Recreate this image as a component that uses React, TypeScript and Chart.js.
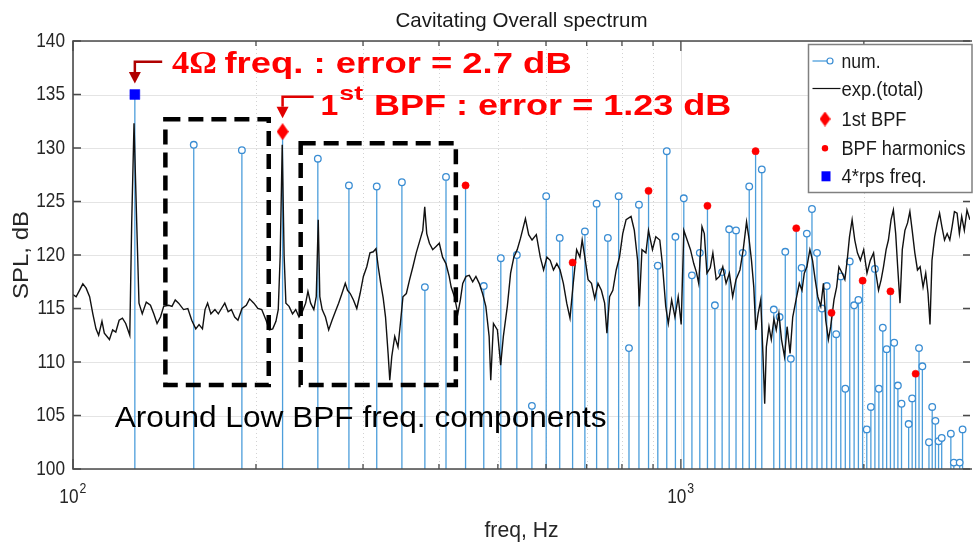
import React, { useEffect, useRef } from 'react';
import { Chart, registerables } from 'chart.js';

Chart.register(...registerables);

// Shaft rotation rate; the predicted (num.) spectrum is given per shaft order
const SHAFT_RATE_HZ = 31.6;
const NUM_ORDERS = [
  4, 5, 6, 7, 8, 9, 10, 11, 12, 13, 14, 15, 16, 17, 18, 19, 20, 21, 22, 23, 24, 25, 26, 27, 28,
  29, 30, 31, 32, 33, 34, 35, 36, 37, 38, 39, 40, 41, 42, 43, 44, 45, 46, 47, 48, 49, 50, 51, 52,
  53, 54, 55, 56, 57, 58, 59, 60, 61, 62, 63, 64, 65, 66, 67, 68, 69, 70, 71, 72, 73, 74, 75, 76,
  77, 78, 79, 80, 81, 82, 83, 84, 85, 86, 87, 88, 89, 90, 91, 92,
];
// SPL per order, dB (null: below the 100 dB floor)
const NUM_LEVELS_DB = [
  135.0, 130.3, 129.8, 131.53, 129.0, 126.5, 126.4, 126.8, 117.0, 127.3, 126.5, 117.1, 119.7, 120.0,
  105.9, 125.5, 121.6, 119.3, 122.2, 124.8, 121.6, 125.5, 111.3, 124.7, 126.0,
  119.0, 129.7, 121.7, 125.3, 118.1, 120.2, 124.6, 115.3, 118.4, 122.4, 122.3, 120.2, 126.4, 129.7,
  128.0, null, 114.9, 114.2, 120.3, 110.3, 122.5, 118.8, 122.0, 124.3,
  120.2, 115.0, 117.1, 114.6, 112.6, 118.0, 107.5, 119.4, 115.3, 115.8, 117.6, 103.7, 105.8, 118.7,
  107.5, 113.2, 111.2, 116.6, 111.8, 107.8, 106.1, null, 104.2, 106.6,
  108.9, 111.3, 109.6, null, 102.5, 105.8, 104.5, 102.6, 102.9, null, null, 103.3, 100.6, null, 100.6, 103.7,
];
const BPF_ORDER = 7;
const BPF_HARMONIC_ORDERS = [14, 21, 28, 35, 42, 49, 56, 63, 70, 77];
const RPS4_ORDER = 4;

// Measured overall spectrum (exp.(total))
const EXP_FREQ_HZ = [
  100.0, 101.2, 102.5, 103.8, 105.1, 106.5, 107.8, 109.1, 110.2, 111.6, 112.6, 114.8, 116.2, 117.6,
  119.1, 120.6, 122.1, 124.0, 124.9, 126.0, 127.3, 128.4, 130.0, 132.0, 134.1, 135.8, 137.5, 139.3,
  141.0, 143.7, 145.5, 147.3, 149.2, 152.0, 154.5, 156.8, 159.2, 161.2, 163.3, 164.9, 166.5, 168.6,
  171.2, 173.4, 175.5, 177.7, 180.0, 182.2, 184.5, 186.8, 189.7, 192.8, 195.2, 198.4, 201.4, 204.4,
  207.8, 210.4, 213.1, 215.7, 217.6, 219.2, 220.9, 222.5, 224.0, 226.7, 229.7, 232.5, 235.4, 238.4,
  241.4, 243.5, 246.0, 249.0, 251.3, 253.2, 254.7, 257.0, 260.2, 263.4, 266.8, 270.1, 273.5, 277.0,
  280.5, 282.9, 285.8, 289.3, 293.0, 296.7, 300.4, 304.3, 308.0, 311.9, 315.1, 317.8, 320.7, 323.8,
  326.7, 329.9, 332.0, 334.5, 338.3, 342.5, 345.6, 349.0, 353.5, 357.9, 362.4, 367.0, 371.6, 376.2,
  379.0, 381.9, 385.8, 390.6, 395.6, 400.5, 405.5, 410.7, 415.8,
  418.9, 424.2, 429.6, 433.8, 437.7, 443.2, 448.7, 454.5, 460.1, 465.9, 471.8, 477.7, 483.7, 486.7,
  491.7, 499.1, 505.3, 510.5, 518.2, 524.7, 531.2, 538.0, 544.7, 555.0, 561.9, 569.1, 578.4, 587.1,
  594.5, 602.1, 609.6, 617.2, 625.1, 632.9, 640.8, 649.0, 657.1, 665.2, 673.8, 682.2, 688.1, 695.1,
  703.7, 712.8, 721.6, 730.6, 740.0, 749.2, 755.7, 763.4, 772.9, 782.8, 792.6, 802.4, 812.7, 828.1,
  838.4, 848.9, 854.3, 863.0, 876.0, 884.6, 898.0, 909.5, 923.3, 932.3, 944.3, 953.5, 965.7, 977.8,
  990.0, 1001.2, 1011.4, 1024.0, 1037.1,
  1050.0, 1060.6, 1069.9, 1083.3, 1092.9, 1103.8, 1117.7, 1128.9, 1143.2, 1157.5, 1172.1, 1186.8,
  1201.8, 1216.9, 1232.2, 1250.8, 1266.5, 1282.5, 1295.4, 1306.7, 1318.2, 1328.2, 1339.8, 1353.3,
  1365.2, 1373.8, 1382.4, 1396.3, 1408.5, 1422.7, 1435.2, 1449.6, 1464.2, 1480.8, 1495.6, 1512.5,
  1527.7, 1547.0, 1566.4, 1582.2, 1596.1, 1612.1, 1630.3, 1646.7, 1663.3, 1680.0, 1699.0, 1716.1,
  1731.2, 1748.6, 1763.9, 1786.1, 1804.1, 1819.9, 1842.8, 1861.3, 1877.7, 1894.2, 1913.2, 1932.5,
  1951.9, 1974.0, 1998.8, 2023.9, 2049.4, 2075.2, 2093.4, 2114.4, 2135.7, 2154.5, 2176.1, 2195.2,
  2217.3, 2236.8, 2256.4, 2273.4, 2293.4, 2313.6, 2336.8, 2360.3, 2381.0, 2402.0, 2426.1, 2450.5,
  2475.1, 2503.1, 2528.3, 2550.5, 2569.7, 2589.0, 2615.1, 2641.4, 2664.6, 2688.0, 2715.0, 2742.3,
  2769.8, 2794.2, 2818.7, 2847.1, 2872.1, 2897.3, 2926.4, 2955.9, 2989.3,
];
const EXP_LEVEL_DB = [
  116.3, 116.1, 116.7, 117.3, 116.9, 116.1, 114.5, 113.1, 112.5, 113.8, 112.7, 112.1, 113.0, 112.8,
  113.9, 114.1, 113.6, 112.5, 123.0, 132.3, 123.0, 115.5, 114.5, 115.6, 115.3, 114.5, 113.6, 114.2,
  115.2, 115.3, 115.2, 115.8, 115.5, 114.9, 115.0, 113.9, 113.1, 113.5, 113.1, 114.9, 115.5, 114.5,
  114.9, 114.5, 115.0, 115.5, 114.7, 114.9, 114.2, 113.9, 115.0, 115.3, 115.9, 115.5, 115.0, 114.9,
  113.9, 113.0, 113.1, 113.8, 114.9, 119.9, 130.3, 119.9, 115.5, 115.2, 114.5, 114.9, 114.2, 114.7,
  115.5, 116.6, 115.5, 114.9, 116.1, 123.3, 116.1, 114.9, 114.2, 113.0, 113.9, 114.7, 115.5, 116.4,
  117.35, 116.7, 116.4, 115.8, 115.0, 116.4, 118.0, 118.9, 120.2, 120.3, 120.6, 118.9, 117.4, 116.0,
  114.2, 110.8, 108.3, 110.5, 112.4, 111.4, 113.6, 116.1, 116.4, 117.7, 118.9, 120.2, 121.25, 122.3,
  124.5, 122.0, 121.1, 120.5, 120.8, 121.1, 119.8, 119.2, 118.0,
  117.0, 116.1, 114.5, 115.8, 117.35, 118.0, 118.1, 117.5, 118.0, 117.35, 116.4, 115.2, 112.4, 108.3,
  113.6, 113.0, 109.7, 112.4, 115.2, 118.3, 119.8, 120.5, 121.55, 123.4, 121.9, 121.4, 121.9, 119.8,
  118.6, 119.8, 119.5, 118.6, 119.2, 118.6, 117.35, 115.5, 114.1, 117.35, 120.5, 119.8, 121.4, 119.8,
  117.7, 117.35, 115.95, 117.35, 116.7, 115.5, 112.7, 116.1, 116.7, 118.6, 119.8, 122.0, 123.3, 123.6,
  122.3, 119.5, 115.2, 120.5, 120.2, 122.3, 120.5, 121.7, 121.4, 119.2, 115.2, 113.6, 115.8, 114.2,
  116.1, 113.5, 122.3, 121.4, 120.5,
  119.2, 118.4, 117.35, 122.65, 122.0, 118.3, 118.8, 120.2, 117.7, 118.0, 118.9, 117.35,
  118.3, 116.1, 117.7, 118.6, 120.5, 123.1, 121.4, 119.5, 117.0, 113.0, 114.5, 115.8,
  110.5, 106.1, 111.4, 113.3, 112.1, 114.0, 113.0, 114.55, 112.1, 110.5, 113.3, 110.8,
  114.2, 115.8, 117.35, 116.7, 118.3, 118.9, 120.5, 119.5, 117.7, 116.1, 115.2, 117.35,
  113.9, 112.1, 113.3, 115.8, 117.0, 118.9, 118.3, 117.7, 119.5, 121.7, 123.3, 121.4,
  120.2, 119.5, 120.5, 118.3, 119.5, 120.2, 118.3, 116.7, 117.7, 118.9, 120.5, 121.4,
  123.3, 124.2, 122.0, 118.9, 115.5, 120.5, 122.3, 123.0, 124.05, 122.3, 120.2, 118.6,
  118.9, 117.0, 118.3, 116.4, 113.5, 119.5, 121.7, 123.0, 123.9, 122.65, 121.4, 122.0,
  121.4, 122.65, 124.05, 123.9, 122.0, 123.6, 122.3, 124.2, 123.3,
];

// Axis ticks
const Y_TICKS = [100, 105, 110, 115, 120, 125, 130, 135, 140];
const X_DECADES = [100, 1000];
const X_DECADE_EXPONENTS = ['2', '3'];
const X_MINOR_TICKS = [200, 300, 400, 500, 600, 700, 800, 900, 2000];
const X_MAX_HZ = 2990;

const SANS = '"Liberation Sans", Arial, Helvetica, sans-serif';
const SERIF = '"Liberation Serif", "Times New Roman", serif';
const STEM_COLOR = '#4d9edb';
const STEM_MARKER = '#3a8dd3';
const RED = '#ff0000';
const AXIS_COLOR = '#4a4a4a';
const TEXT_COLOR = '#262626';

const levelOf = (order: number) => NUM_LEVELS_DB[NUM_ORDERS.indexOf(order)] as number;
const freqOf = (order: number) => order * SHAFT_RATE_HZ;

// Draw text stretched/condensed to a given advance width
function drawFitted(
  ctx: CanvasRenderingContext2D, text: string, x: number, baseline: number, width: number,
  font: string, color: string, align: 'left' | 'center' | 'right' = 'left'
) {
  ctx.save();
  ctx.font = font;
  ctx.fillStyle = color;
  ctx.textAlign = 'left';
  ctx.textBaseline = 'alphabetic';
  const w = ctx.measureText(text).width;
  const x0 = align === 'left' ? x : align === 'center' ? x - width / 2 : x - width;
  ctx.translate(x0, baseline);
  ctx.scale(width / w, 1);
  ctx.fillText(text, 0, 0);
  ctx.restore();
}

// Draw text with a fixed horizontal condensing factor
function drawCondensed(
  ctx: CanvasRenderingContext2D, text: string, x: number, y: number, font: string, color: string,
  align: CanvasTextAlign, baseline: CanvasTextBaseline, squeeze = 0.82
) {
  ctx.save();
  ctx.font = font;
  ctx.fillStyle = color;
  ctx.textAlign = align;
  ctx.textBaseline = baseline;
  ctx.translate(x, y);
  ctx.scale(squeeze, 1);
  ctx.fillText(text, 0, 0);
  ctx.restore();
}

function makeDiamond(w: number, h: number, color: string) {
  const c = document.createElement('canvas');
  c.width = w;
  c.height = h;
  const g = c.getContext('2d')!;
  g.fillStyle = color;
  g.beginPath();
  g.moveTo(w / 2, 0);
  g.lineTo(w, h / 2);
  g.lineTo(w / 2, h);
  g.lineTo(0, h / 2);
  g.closePath();
  g.fill();
  return c;
}

export default function App() {
  const canvasRef = useRef<HTMLCanvasElement | null>(null);

  useEffect(() => {
    const canvas = canvasRef.current;
    if (!canvas) return;

    const diamond = makeDiamond(12, 17, RED);
    const legendDiamond = makeDiamond(11, 15, RED);

    const specialOrders = new Set<number>([RPS4_ORDER, BPF_ORDER, ...BPF_HARMONIC_ORDERS]);

    // Stems: base point, top point, gap
    const stemPoints: { x: number; y: number | null }[] = [];
    const stemOrders: number[] = [];
    NUM_ORDERS.forEach((n, i) => {
      const v = NUM_LEVELS_DB[i];
      if (v === null) return;
      const f = freqOf(n);
      stemPoints.push({ x: f, y: Y_TICKS[0] }, { x: f, y: v }, { x: f, y: null });
      stemOrders.push(n);
    });

    const expPoints = EXP_FREQ_HZ.map((f, i) => ({ x: f, y: EXP_LEVEL_DB[i] }));
    const bpfHarmPoints = BPF_HARMONIC_ORDERS.map((n) => ({ x: freqOf(n), y: levelOf(n) }));

    const decor = {
      id: 'decor',
      beforeDraw(chart: any) {
        const { ctx, width, height } = chart;
        ctx.save();
        ctx.fillStyle = '#ffffff';
        ctx.fillRect(0, 0, width, height);
        ctx.restore();
      },
      beforeDatasetsDraw(chart: any) {
        const { ctx, chartArea: a, scales } = chart;
        const xs = scales.x;
        const ys = scales.y;
        ctx.save();
        ctx.lineWidth = 1;
        ctx.strokeStyle = '#e4e4e4';
        Y_TICKS.forEach((v) => {
          const y = Math.round(ys.getPixelForValue(v)) + 0.5;
          ctx.beginPath();
          ctx.moveTo(a.left, y);
          ctx.lineTo(a.right, y);
          ctx.stroke();
        });
        X_DECADES.forEach((f) => {
          const x = Math.round(xs.getPixelForValue(f)) + 0.5;
          ctx.beginPath();
          ctx.moveTo(x, a.top);
          ctx.lineTo(x, a.bottom);
          ctx.stroke();
        });
        ctx.setLineDash([1, 3]);
        ctx.strokeStyle = '#d2d2d2';
        X_MINOR_TICKS.forEach((f) => {
          const x = Math.round(xs.getPixelForValue(f)) + 0.5;
          ctx.beginPath();
          ctx.moveTo(x, a.top);
          ctx.lineTo(x, a.bottom);
          ctx.stroke();
        });
        ctx.restore();
      },
      afterDatasetsDraw(chart: any) {
        const { ctx, chartArea: a, scales } = chart;
        const xs = scales.x;
        const ys = scales.y;
        const px = (f: number) => xs.getPixelForValue(f);
        const py = (v: number) => ys.getPixelForValue(v);

        // Dashed boxes around the low-frequency components
        ctx.save();
        ctx.strokeStyle = '#000';
        ctx.lineWidth = 4.5;
        ctx.setLineDash([15, 8]);
        const boxes = [
          [141.9, 209.9, 132.68, 107.85],
          [236.9, 426.4, 130.44, 107.85],
        ];
        boxes.forEach(([f1, f2, v1, v2]) => {
          ctx.strokeRect(px(f1), py(v1), px(f2) - px(f1), py(v2) - py(v1));
        });
        ctx.restore();

        // Elbow arrows pointing at the 4Ω and 1st BPF peaks
        const arrow = (fStart: number, vLine: number, fTip: number, vHead: number, vTip: number, color: string) => {
          const xs0 = px(fStart);
          const yl = py(vLine);
          const xt = px(fTip);
          const yh = py(vHead);
          const yt = py(vTip);
          ctx.save();
          ctx.strokeStyle = color;
          ctx.fillStyle = color;
          ctx.lineWidth = 2.5;
          ctx.beginPath();
          ctx.moveTo(xs0, yl);
          ctx.lineTo(xt, yl);
          ctx.lineTo(xt, yh);
          ctx.stroke();
          ctx.beginPath();
          ctx.moveTo(xt - 6, yh);
          ctx.lineTo(xt + 6, yh);
          ctx.lineTo(xt, yt);
          ctx.closePath();
          ctx.fill();
          ctx.restore();
        };
        arrow(140.2, 138.07, freqOf(RPS4_ORDER), 137.1, 136.03, '#b00000');
        arrow(248.8, 134.79, freqOf(BPF_ORDER), 133.86, 132.78, '#e00000');

        // Red error annotations
        drawFitted(ctx, '4Ω', px(145.5), py(137.04), px(172.4) - px(145.5), `bold 32px ${SERIF}`, RED);
        drawFitted(ctx, 'freq. : error = 2.7 dB', px(177.5), py(137.04), px(661.3) - px(177.5), `bold 30px ${SANS}`, RED);
        drawFitted(ctx, '1', px(255.4), py(133.08), px(273.2) - px(255.4), `bold 30px ${SANS}`, RED);
        drawFitted(ctx, 'st', px(274.2), py(134.49), px(300.1) - px(274.2), `bold 21px ${SANS}`, RED);
        drawFitted(ctx, 'BPF : error = 1.23 dB', px(312.7), py(133.08), px(1210.8) - px(312.7), `bold 30px ${SANS}`, RED);

        drawFitted(ctx, 'Around Low BPF freq. components', px(117.1), py(103.95), px(754.8) - px(117.1), `30px ${SANS}`, '#000');

        // Axes frame and inward ticks
        ctx.save();
        ctx.strokeStyle = AXIS_COLOR;
        ctx.lineWidth = 1.6;
        ctx.beginPath();
        ctx.moveTo(a.right + 2, a.top);
        ctx.lineTo(a.left, a.top);
        ctx.lineTo(a.left, a.bottom);
        ctx.lineTo(a.right + 2, a.bottom);
        ctx.stroke();
        ctx.lineWidth = 1.3;
        Y_TICKS.forEach((v) => {
          const y = py(v);
          ctx.beginPath();
          ctx.moveTo(a.left, y);
          ctx.lineTo(a.left + 8, y);
          ctx.moveTo(a.right, y);
          ctx.lineTo(a.right - 7, y);
          ctx.stroke();
        });
        X_DECADES.forEach((f) => {
          const x = px(f);
          ctx.beginPath();
          ctx.moveTo(x, a.bottom);
          ctx.lineTo(x, a.bottom - 10);
          ctx.moveTo(x, a.top);
          ctx.lineTo(x, a.top + 10);
          ctx.stroke();
        });
        X_MINOR_TICKS.forEach((f) => {
          const x = px(f);
          ctx.beginPath();
          ctx.moveTo(x, a.bottom);
          ctx.lineTo(x, a.bottom - 5);
          ctx.moveTo(x, a.top);
          ctx.lineTo(x, a.top + 5);
          ctx.stroke();
        });
        ctx.restore();

        // Tick labels
        Y_TICKS.forEach((v) => {
          drawCondensed(ctx, String(v), a.left - 8, py(v), `21px ${SANS}`, TEXT_COLOR, 'right', 'middle');
        });
        X_DECADES.forEach((f, i) => {
          const x = px(f);
          drawCondensed(ctx, '10', x + 5.5, a.bottom + 34, `21px ${SANS}`, TEXT_COLOR, 'right', 'alphabetic');
          drawCondensed(ctx, X_DECADE_EXPONENTS[i], x + 6.5, a.bottom + 24, `15px ${SANS}`, TEXT_COLOR, 'left', 'alphabetic');
        });

        // Title and axis titles
        drawFitted(ctx, 'Cavitating Overall spectrum', (a.left + a.right) / 2, a.top - 14.3, 252, `21px ${SANS}`, '#1a1a1a', 'center');
        drawFitted(ctx, 'freq, Hz', (a.left + a.right) / 2, a.bottom + 67.5, 74, `22px ${SANS}`, TEXT_COLOR, 'center');
        ctx.save();
        ctx.translate(a.left - 45, (a.top + a.bottom) / 2);
        ctx.rotate(-Math.PI / 2);
        drawFitted(ctx, 'SPL, dB', 0, 0, 88, `22px ${SANS}`, TEXT_COLOR, 'center');
        ctx.restore();

        // Legend
        const L = { x: 808.5, y: 44.5, w: 163.5, h: 148 };
        ctx.save();
        ctx.fillStyle = '#ffffff';
        ctx.fillRect(L.x, L.y, L.w, L.h);
        ctx.strokeStyle = '#808080';
        ctx.lineWidth = 1.5;
        ctx.strokeRect(L.x, L.y, L.w, L.h);
        ctx.restore();

        const rows = [61, 88.5, 119, 148.3, 176.3];
        const textWidths = [39, 82, 65, 124, 85];
        const labels = chart.data.datasets.map((d: any) => d.label);
        const textX = L.x + 33;
        // num.
        ctx.save();
        ctx.strokeStyle = STEM_COLOR;
        ctx.lineWidth = 1.3;
        ctx.beginPath();
        ctx.moveTo(L.x + 4, rows[0]);
        ctx.lineTo(L.x + 19, rows[0]);
        ctx.stroke();
        ctx.beginPath();
        ctx.arc(L.x + 21.5, rows[0], 3, 0, Math.PI * 2);
        ctx.fillStyle = '#fff';
        ctx.fill();
        ctx.strokeStyle = STEM_MARKER;
        ctx.lineWidth = 1.2;
        ctx.stroke();
        // exp.(total)
        ctx.strokeStyle = '#111';
        ctx.lineWidth = 1.2;
        ctx.beginPath();
        ctx.moveTo(L.x + 4, rows[1]);
        ctx.lineTo(L.x + 32, rows[1]);
        ctx.stroke();
        // 1st BPF
        ctx.drawImage(legendDiamond, L.x + 16.5 - 5.5, rows[2] - 7.5);
        // BPF harmonics
        ctx.fillStyle = RED;
        ctx.beginPath();
        ctx.arc(L.x + 16.5, rows[3], 3.2, 0, Math.PI * 2);
        ctx.fill();
        // 4*rps freq.
        ctx.fillStyle = '#0000ff';
        ctx.fillRect(L.x + 13, rows[4] - 5, 9, 10);
        ctx.restore();

        rows.forEach((ry, i) => {
          drawFitted(ctx, labels[i], textX, ry + 7, textWidths[i], `20px ${SANS}`, '#1a1a1a');
        });
      },
    };

    const chart = new Chart(canvas, {
      type: 'line',
      data: {
        datasets: [
          {
            label: 'num.',
            data: stemPoints as any,
            borderColor: STEM_COLOR,
            borderWidth: 1.3,
            spanGaps: false,
            pointStyle: 'circle',
            pointRadius: (c: any) => {
              const i = c.dataIndex;
              if (i % 3 !== 1) return 0;
              return specialOrders.has(stemOrders[(i - 1) / 3]) ? 0 : 3.3;
            },
            pointBackgroundColor: '#ffffff',
            pointBorderColor: STEM_MARKER,
            pointBorderWidth: 1.3,
            order: 3,
          },
          {
            label: 'exp.(total)',
            data: expPoints,
            borderColor: '#111111',
            borderWidth: 1.4,
            pointRadius: 0,
            tension: 0,
            order: 2,
          },
          {
            label: '1st BPF',
            data: [{ x: freqOf(BPF_ORDER), y: levelOf(BPF_ORDER) }],
            showLine: false,
            pointStyle: diamond as any,
            pointRadius: 8,
            order: 0,
          },
          {
            label: 'BPF harmonics',
            data: bpfHarmPoints,
            showLine: false,
            pointStyle: 'circle',
            pointRadius: 3.6,
            pointBackgroundColor: RED,
            pointBorderColor: RED,
            pointBorderWidth: 0.5,
            order: 1,
          },
          {
            label: '4*rps freq.',
            data: [{ x: freqOf(RPS4_ORDER), y: levelOf(RPS4_ORDER) }],
            showLine: false,
            pointStyle: 'rect',
            pointRadius: 7,
            pointBackgroundColor: '#0000ff',
            pointBorderColor: '#0000ff',
            pointBorderWidth: 0.5,
            order: 0,
          },
        ],
      },
      options: {
        responsive: false,
        maintainAspectRatio: false,
        devicePixelRatio: 1,
        animation: false,
        events: [],
        layout: { padding: { left: 73, top: 41, right: 0, bottom: 77 } },
        plugins: { legend: { display: false }, tooltip: { enabled: false }, title: { display: false } },
        scales: {
          x: { type: 'logarithmic', min: X_DECADES[0], max: X_MAX_HZ, display: false },
          y: { type: 'linear', min: Y_TICKS[0], max: Y_TICKS[Y_TICKS.length - 1], display: false },
        },
      },
      plugins: [decor],
    } as any);

    return () => chart.destroy();
  }, []);

  return (
    <div style={{ position: 'absolute', left: 0, top: 0, width: 979, height: 546, background: '#fff' }}>
      <canvas ref={canvasRef} width={979} height={546} style={{ display: 'block', width: 979, height: 546 }} />
    </div>
  );
}
